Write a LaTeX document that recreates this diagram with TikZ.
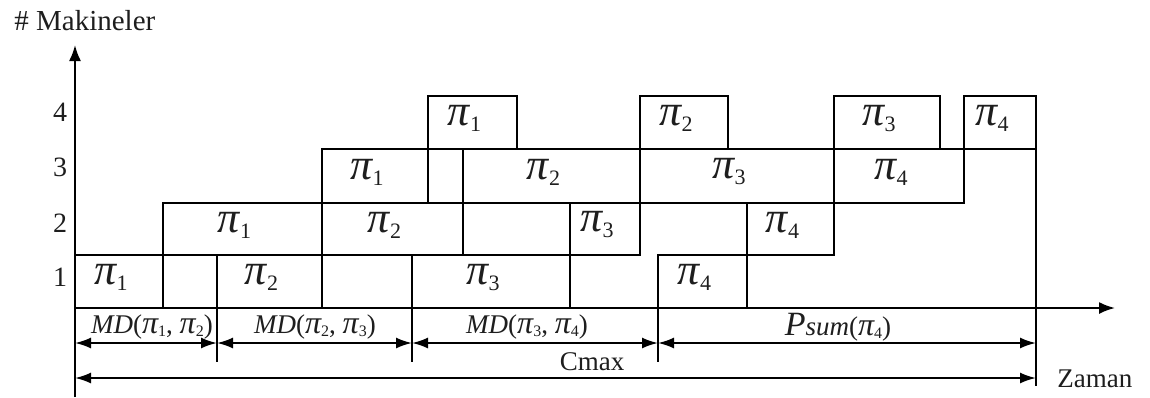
\documentclass[tikz,border=0pt]{standalone}
\usepackage{fontspec}
\setmainfont{Liberation Serif}
\usetikzlibrary{arrows.meta,fit}
\newcommand\bigpi[1]{{\fontsize{22}{24}\selectfont\itshape π}{\fontsize{11}{12}\selectfont\raisebox{-3pt}{#1}}}
\newcommand\smallpi[1]{{\fontsize{16}{18}\selectfont\itshape π}{\fontsize{8}{9}\selectfont\raisebox{-1.5pt}{#1}}}
\definecolor{ink}{RGB}{30,30,30}
\tikzset{
  lines/.style={line width=1pt, draw=black},
  jobbox/.style={lines, rectangle, inner sep=0pt, outer sep=0pt},
  joblabel/.style={inner sep=0pt, text=ink},
  axisline/.style={lines, -{Latex[length=8pt,width=6pt]}},
  dimarrow/.style={lines, {Latex[length=8pt,width=5.5pt]}-{Latex[length=8pt,width=5.5pt]}},
  txt/.style={inner sep=0pt, text=ink, font=\fontsize{13.5}{15}\selectfont},
  ticklabel/.style={inner sep=0pt, text=ink, font=\fontsize{14}{16}\selectfont},
}
\begin{document}
\begin{tikzpicture}[x=0.5pt, y=-0.5pt]
\useasboundingbox (0,0) rectangle (1150,397);
% axes
\coordinate (ybot) at (75,397);
\coordinate (ytop) at (75,45);
\coordinate (O) at (75,308);
\coordinate (xend) at (1115,308);
% job boxes
\foreach \n/\a/\b/\r/\l in {
  m1p1/75/163/1/1, m1p2/217/322/1/2, m1p3/412/570/1/3, m1p4/658/747/1/4,
  m2p1/163/322/2/1, m2p2/322/463/2/2, m2p3/570/640/2/3, m2p4/747/834/2/4,
  m3p1/322/428/3/1, m3p2/463/640/3/2, m3p3/640/834/3/3, m3p4/834/964/3/4,
  m4p1/428/517/4/1, m4p2/640/728/4/2, m4p3/834/940/4/3, m4p4/964/1036/4/4}{
  \pgfmathsetmacro\yt{{0,255,203,149,96}[\r]}
  \pgfmathsetmacro\yb{{0,308,255,203,149}[\r]}
  \node[jobbox, fit={(\a,\yt) (\b,\yb)}] (\n) {};
  \node[joblabel] (\n-t) at ([xshift=-4pt, yshift=2pt]\n.center) {\bigpi{\l}};
}
\draw[axisline] (ybot) -- (ytop);
\draw[axisline] (O) -- (xend);
% machine numbers
\node[ticklabel] (r4) at (60,112) {4};
\node[ticklabel] (r3) at (60,167) {3};
\node[ticklabel] (r2) at (60,223) {2};
\node[ticklabel] (r1) at (60,277) {1};
\node[txt, anchor=west, font=\fontsize{14.5}{16}\selectfont] (ylab) at (14,21) {\# Makineler};
\node[txt, anchor=west] (xlab) at (1057,379) {Zaman};
% dimension ticks
\coordinate (d1) at (217,362);
\coordinate (d2) at (412,362);
\coordinate (d3) at (658,362);
\coordinate (d4) at (1036,386);
\draw[lines] (m1p2.south west) -- (d1);
\draw[lines] (m1p3.south west) -- (d2);
\draw[lines] (m1p4.south west) -- (d3);
\draw[lines] (m4p4.north east) -- (d4);
% dimension arrows
\coordinate (a0) at (75,343);
\coordinate (a1) at (217,343);
\coordinate (a2) at (412,343);
\coordinate (a3) at (658,343);
\coordinate (a4) at (1036,343);
\coordinate (c0) at (75,378);
\coordinate (c1) at (1036,378);
\draw[dimarrow] (a0) -- (a1);
\draw[dimarrow] (a1) -- (a2);
\draw[dimarrow] (a2) -- (a3);
\draw[dimarrow] (a3) -- (a4);
\draw[dimarrow] (c0) -- (c1);
\node[txt] (md12) at (152,327) {\textit{MD}(\smallpi{1}, \smallpi{2})};
\node[txt] (md23) at (315,327) {\textit{MD}(\smallpi{2}, \smallpi{3})};
\node[txt] (md34) at (527,327) {\textit{MD}(\smallpi{3}, \smallpi{4})};
\node[txt] (psum) at (838,327) {{\fontsize{17}{18}\selectfont\itshape P}{\itshape sum}(\smallpi{4})};
\node[txt] (cmax) at (592,362) {Cmax};
\end{tikzpicture}
\end{document}
